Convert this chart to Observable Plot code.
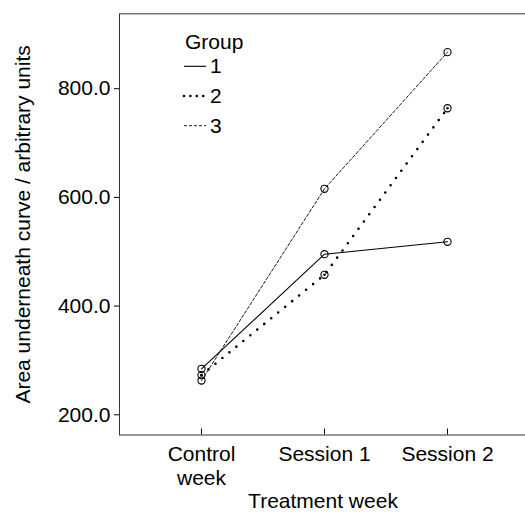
<!DOCTYPE html>
<html><head><meta charset="utf-8">
<script src="https://cdn.jsdelivr.net/npm/d3@7"></script>
<script src="https://cdn.jsdelivr.net/npm/@observablehq/plot@0.6"></script>
<style>
html,body{margin:0;padding:0;background:#fff;overflow:hidden;}
#chart{position:relative;width:525px;height:513px;overflow:hidden;}
#chart > svg{display:block;max-width:none !important;}
#legend{position:absolute;left:0;top:0;pointer-events:none;}
</style></head><body><div id="chart"></div>
<script>
const weeks = ["Control week", "Session 1", "Session 2"];
const weekLabels = ["Control\nweek", "Session 1", "Session 2"];
const groups = ["1", "2", "3"];
const group1 = [284.6, 495.5, 518.3];
const group2 = [273.0, 457.6, 764.0];
const group3 = [263.0, 615.8, 867.2];
const yTicks = [200, 400, 600, 800];
const yDomain = [162.8, 937.8];
const xLabel = "Treatment week";
const yLabel = "Area underneath curve / arbitrary units";
const legendTitle = "Group";

const series = [group1, group2, group3];
const data = groups.flatMap((g, gi) => weeks.map((w, wi) => ({group: g, week: w, value: series[gi][wi]})));

const styles = {
  "1": {strokeWidth: 1.1},
  "2": {strokeWidth: 2.6, strokeDasharray: "0 9", strokeLinecap: "round"},
  "3": {strokeWidth: 0.9, strokeDasharray: "3 2"}
};
const legendStyles = {
  "1": {width: 1.1, dash: null, cap: "butt"},
  "2": {width: 2.6, dash: "0 6.4", cap: "round"},
  "3": {width: 0.9, dash: "3 2", cap: "butt"}
};

const FONT = "'Liberation Sans', Arial, Helvetica, sans-serif";

const plot = Plot.plot({
  width: 545, height: 513,
  marginLeft: 119, marginRight: 16, marginTop: 13.3, marginBottom: 78.5,
  style: {fontFamily: FONT, fontSize: "21px", color: "#000", background: "#fff", maxWidth: "none"},
  x: {type: "point", domain: weeks, padding: 2/3, label: null},
  y: {domain: yDomain, label: null},
  marks: [
    Plot.frame({stroke: "#333", strokeWidth: 1}),
    Plot.axisY({ticks: yTicks, tickFormat: d3.format(".1f"), tickSize: 5, tickPadding: 4,
      label: yLabel, labelAnchor: "center", labelArrow: "none", labelOffset: 104}),
    Plot.axisX({tickFormat: d => weekLabels[weeks.indexOf(d)], tickSize: -6, tickPadding: 15.2, lineHeight: 1.15,
      label: null}),
    ...groups.map(g => Plot.line(data.filter(d => d.group === g), {x: "week", y: "value", stroke: "#000", ...styles[g]})),
    Plot.dot(data, {x: "week", y: "value", r: 3.6, stroke: "#000", strokeWidth: 1.1, fill: "none"}),
    Plot.dot(data.filter(d => d.group === "2"), {x: "week", y: "value", r: 1.3, fill: "#000"})
  ]
});
const chart = document.getElementById("chart");
chart.appendChild(plot);

// overlay: x-axis title (centred on the visible frame) and legend
const svg = d3.select(chart).append("svg").attr("id", "legend")
  .attr("width", 525).attr("height", 513)
  .style("font-family", FONT).style("font-size", "21px");
svg.append("text").attr("x", 323).attr("y", 508).attr("text-anchor", "middle").attr("fill", "#000").text(xLabel);
svg.append("text").attr("x", 185).attr("y", 49).attr("fill", "#000").text(legendTitle);
groups.forEach((g, i) => {
  const base = 73.3 + 29.7 * i;
  const s = legendStyles[g];
  const ln = svg.append("line").attr("x1", 184).attr("x2", 206).attr("y1", base - 7).attr("y2", base - 7)
    .attr("stroke", "#000").attr("stroke-width", s.width).attr("stroke-linecap", s.cap);
  if (s.dash) ln.attr("stroke-dasharray", s.dash);
  svg.append("text").attr("x", 210).attr("y", base).attr("fill", "#000").text(g);
});
</script></body></html>
